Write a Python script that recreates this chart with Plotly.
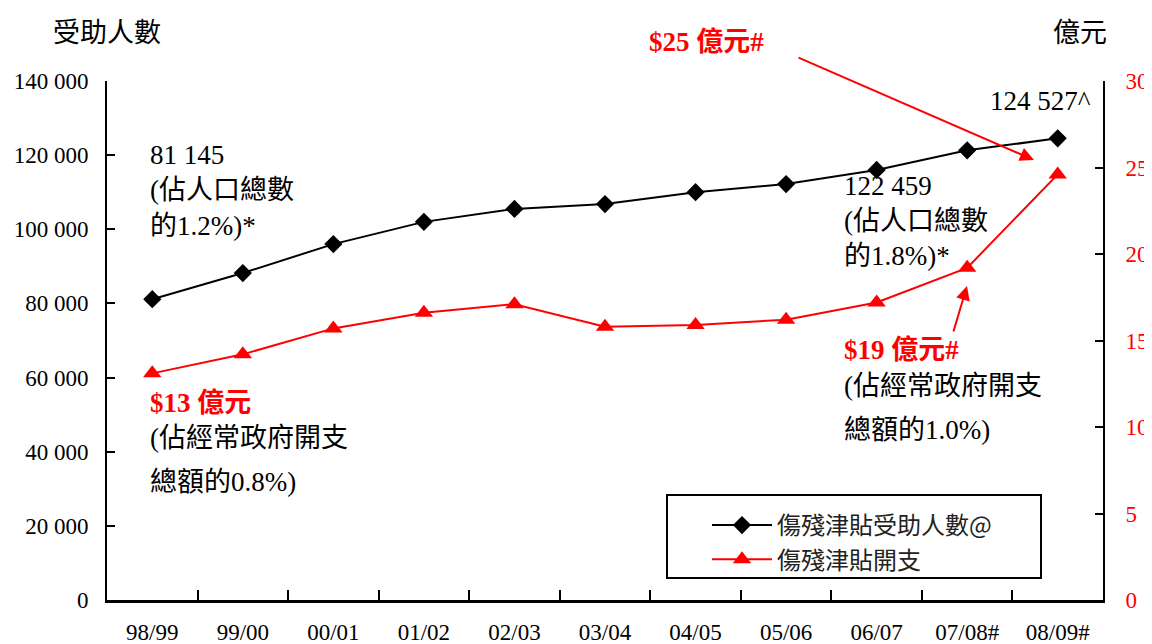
import plotly.graph_objects as go

years = ["98/99", "99/00", "00/01", "01/02", "02/03", "03/04", "04/05", "05/06", "06/07", "07/08#", "08/09#"]
recipients = [81145, 88200, 96000, 102000, 105500, 106800, 110000, 112200, 116000, 121300, 124527]
spending = [13.1, 14.2, 15.7, 16.6, 17.1, 15.8, 15.9, 16.2, 17.2, 19.2, 24.6]
left_ticks = [0, 20000, 40000, 60000, 80000, 100000, 120000, 140000]
left_tick_text = ["0", "20 000", "40 000", "60 000", "80 000", "100 000", "120 000", "140 000"]
right_ticks = [0, 5, 10, 15, 20, 25, 30]

# page body has an 8px margin; layout below is given in screen pixels
OFF = 8
W, H = 1152 - OFF, 644 - OFF
AX_L, AX_R, AX_T, AX_B = 107, 1103, 81, 600  # screen positions of plot area
L = AX_L - OFF
T = AX_T - OFF
R = W - (AX_R - OFF)
B = H - (AX_B - OFF)
PW, PH = AX_R - AX_L, AX_B - AX_T

def px(x):
    return (x - AX_L) / PW

def py(y):
    return (AX_B - y) / PH

SERIF = "Liberation Serif, Noto Sans CJK TC"
CJK = "Noto Sans CJK TC, Liberation Serif"
RED = "#FF0000"

fig = go.Figure()
fig.add_trace(go.Scatter(
    x=years, y=recipients, name="傷殘津貼受助人數@", mode="lines+markers",
    line=dict(color="black", width=2),
    marker=dict(symbol="diamond", size=14, color="black"),
    legendgroup="a", yaxis="y"))
fig.add_trace(go.Scatter(
    x=years, y=spending, name="傷殘津貼開支", mode="lines+markers",
    line=dict(color=RED, width=2),
    marker=dict(symbol="triangle-up", size=16, color=RED),
    legendgroup="b", yaxis="y2"))

anns = []
def txt(text, x, y, color="black", bold=False, size=27, xanchor="left"):
    t = f"<b>{text}</b>" if bold else text
    anns.append(dict(text=t, x=px(x), y=py(y), xref="paper", yref="paper",
                     xanchor=xanchor, yanchor="middle", showarrow=False,
                     font=dict(family=SERIF, size=size, color=color)))

txt("81 145", 148, 155)
txt("(佔人口總數", 148, 190)
txt("的1.2%)*", 148, 226)
txt("$13 億元", 148, 403, RED, True)
txt("(佔經常政府開支", 148, 438)
txt("總額的0.8%)", 148, 482)
txt("122 459", 842, 186)
txt("(佔人口總數", 842, 221)
txt("的1.8%)*", 842, 256)
txt("$19 億元#", 842, 350, RED, True)
txt("(佔經常政府開支", 842, 386)
txt("總額的1.0%)", 842, 430)
txt("$25 億元#", 706, 42, RED, True, xanchor="center")
txt("124 527^", 1040, 101, xanchor="center")
txt("受助人數", 107, 33, size=27, xanchor="center")
txt("億元", 1080, 33, size=27, xanchor="center")

def arrow(tail, tip):
    anns.append(dict(text="", x=px(tip[0]), y=py(tip[1]), xref="paper", yref="paper",
                     ax=tail[0] - tip[0], ay=tail[1] - tip[1], axref="pixel", ayref="pixel",
                     showarrow=True, arrowhead=2, arrowsize=1.4, arrowwidth=2,
                     arrowcolor=RED))

arrow((797, 57), (1034, 160))
arrow((953, 333), (967, 286))

fig.update_layout(
    width=W, height=H,
    margin=dict(l=L, r=R, t=T, b=B, autoexpand=False),
    plot_bgcolor="white", paper_bgcolor="white",
    font=dict(family=SERIF, size=23, color="black"),
    showlegend=True,
    legend=dict(x=px(707), y=py(503), xanchor="left", yanchor="top",
                borderwidth=0, bgcolor="rgba(0,0,0,0)",
                font=dict(family=CJK, size=24, color="#222"),
                itemwidth=60, traceorder="grouped", tracegroupgap=0),
    shapes=[dict(type="rect", xref="paper", yref="paper",
                 x0=px(667), x1=px(1041), y0=py(578), y1=py(495),
                 line=dict(color="black", width=2), fillcolor="rgba(0,0,0,0)", layer="above")],
    xaxis=dict(type="category", showgrid=False, zeroline=False, automargin=False,
               showline=True, linecolor="black", linewidth=3,
               ticks="inside", tickson="boundaries", ticklen=10, tickwidth=2,
               tickcolor="black", ticklabelstandoff=9,
               tickfont=dict(family=SERIF, size=23), range=[-0.5, 10.5]),
    yaxis=dict(range=[0, 140000], tickvals=left_ticks, ticktext=left_tick_text,
               showgrid=False, zeroline=False, showline=True, linecolor="black", automargin=False,
               linewidth=2, ticks="inside", ticklen=8, tickwidth=2, tickcolor="black",
               ticklabelstandoff=12, tickfont=dict(family=SERIF, size=23)),
    yaxis2=dict(range=[0, 30], tickvals=right_ticks, overlaying="y", side="right",
                showgrid=False, zeroline=False, showline=True, linecolor="black", automargin=False,
                linewidth=2, ticks="inside", ticklen=8, tickwidth=2, tickcolor="black",
                ticklabelstandoff=16, tickfont=dict(family=SERIF, size=23, color=RED)),
    annotations=anns,
)

fig.write_html("out.html")
